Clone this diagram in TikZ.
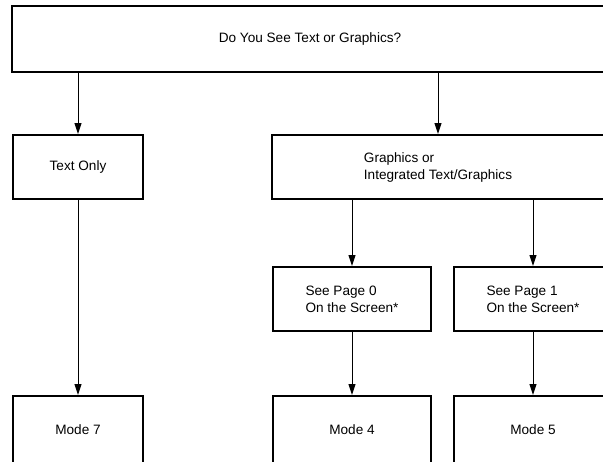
\documentclass[tikz,border=0pt]{standalone}
\usepackage{fontspec}
\setmainfont{Liberation Sans}
\usepackage{tikz}
\usetikzlibrary{arrows.meta}

\begin{document}
\begin{tikzpicture}[x=1pt, y=-1pt,
    box/.style = {draw, line width=2pt, align=left, inner sep=0pt,
        font=\fontsize{13.6}{17}\selectfont},
    flow/.style = {line width=1pt, -{Triangle[length=11pt,width=7pt]}}]
	\useasboundingbox (0,0) rectangle (603,461);
	\clip (0,0) rectangle (603,461);
	\node[box, minimum width=596, minimum height=66] (ask) at (310,39){Do You See Text or Graphics?};
	\node[box, minimum width=130, minimum height=64] (txt) at (78,167){Text Only};
	\node[box, minimum width=332, minimum height=64] (gfx) at (438,167){Graphics or\\Integrated Text/Graphics};
	\node[box, minimum width=158, minimum height=64] (pg0) at (352,299){See Page 0\\On the Screen*};
	\node[box, minimum width=158, minimum height=64] (pg1) at (533,299){See Page 1\\On the Screen*};
	\node[box, minimum width=130, minimum height=68] (m7) at (78,430){Mode 7};
	\node[box, minimum width=158, minimum height=68] (m4) at (352,430){Mode 4};
	\node[box, minimum width=158, minimum height=68] (m5) at (533,430){Mode 5};
	\draw[flow] (txt |- ask.south) -- (txt);
	\draw[flow] (gfx |- ask.south) -- (gfx);
	\draw[flow] (pg0 |- gfx.south) -- (pg0);
	\draw[flow] (pg1 |- gfx.south) -- (pg1);
	\draw[flow] (txt) -- (m7);
	\draw[flow] (pg0) -- (m4);
	\draw[flow] (pg1) -- (m5);
\end{tikzpicture}
\end{document}
